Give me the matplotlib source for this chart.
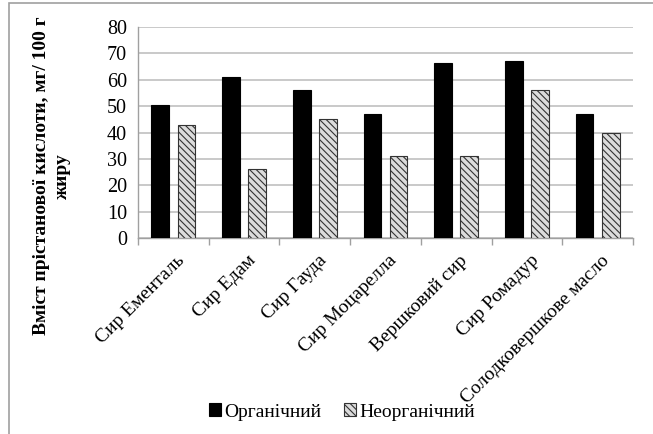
import matplotlib
matplotlib.use("Agg")
import matplotlib.pyplot as plt
import numpy as np
from matplotlib.patches import Rectangle
from matplotlib.transforms import ScaledTranslation, blended_transform_factory

plt.rcParams['font.family'] = ['Liberation Serif', 'DejaVu Serif']
plt.rcParams['hatch.linewidth'] = 0.8

categories = ["Сир Ементаль", "Сир Едам", "Сир Гауда", "Сир Моцарелла",
              "Вершковий сир", "Сир Ромадур", "Солодковершкове масло"]
organic = [50.5, 61, 56, 47, 66.3, 67, 47]
inorganic = [43, 26, 45, 31, 31, 56, 40]
series_names = ["Органічний", "Неорганічний"]
y_ticks = [0, 10, 20, 30, 40, 50, 60, 70, 80]
y_label = "Вміст прістанової кислоти, мг/ 100 г\nжиру"

W, H = 653, 434
fig = plt.figure(figsize=(W / 100, H / 100), dpi=100)

# outer chart frame
fig.patches.append(Rectangle((9 / W, -0.1), 1.2, (H - 3) / H + 0.1,
                             transform=fig.transFigure, fill=False,
                             edgecolor='#a0a0a0', linewidth=1.2))

ax = fig.add_axes([138 / W, 1 - 238 / H, (633 - 138) / W, (238 - 27) / H])

x = np.arange(len(categories))
bw = 0.25
off = 0.185
ax.bar(x - off, organic, bw, color='black', edgecolor='black', linewidth=0.8,
       label=series_names[0], zorder=3)
ax.bar(x + off, inorganic, bw, color='#dcdcdc', edgecolor='#333333',
       hatch='\\\\\\\\\\', linewidth=0.8, label=series_names[1], zorder=3)

ax.set_xlim(-0.5, len(categories) - 0.5)
ax.set_ylim(0, 80)
ax.set_yticks(y_ticks)
ax.tick_params(axis='y', length=0, labelsize=14.5, pad=8)
ax.yaxis.grid(True, color='#c0c0c0', linewidth=1.2, zorder=0)
ax.set_axisbelow(True)

# category boundary ticks
ax.set_xticks(np.arange(len(categories) + 1) - 0.5)
ax.set_xticklabels([])
ax.tick_params(axis='x', length=5, color='#a0a0a0', width=1)

# rotated category labels under each group
lab_tr = blended_transform_factory(ax.transData, ax.transAxes) + \
    ScaledTranslation(3 / 100, -14 / 100, fig.dpi_scale_trans)
for xi, name in zip(x, categories):
    ax.text(xi, 0, name, transform=lab_tr, rotation=45, ha='right',
            va='top', rotation_mode='anchor', fontsize=14, clip_on=False)

for s in ['top', 'right']:
    ax.spines[s].set_visible(False)
ax.spines['left'].set_color('#a0a0a0')
ax.spines['bottom'].set_color('#a0a0a0')
ax.spines['left'].set_linewidth(1)
ax.spines['bottom'].set_linewidth(1)

fig.text(52 / W, 1 - 176 / H, y_label, rotation=90, ha='center', va='center',
         fontsize=14, fontweight='bold', multialignment='center',
         linespacing=1.3)

fig.legend(loc='center', bbox_to_anchor=(342 / W, 1 - 412 / H), ncol=2,
           frameon=False, fontsize=14, handlelength=0.6, handleheight=0.6,
           handletextpad=0.15, columnspacing=1.2)

fig.savefig("out.png", dpi=100)
